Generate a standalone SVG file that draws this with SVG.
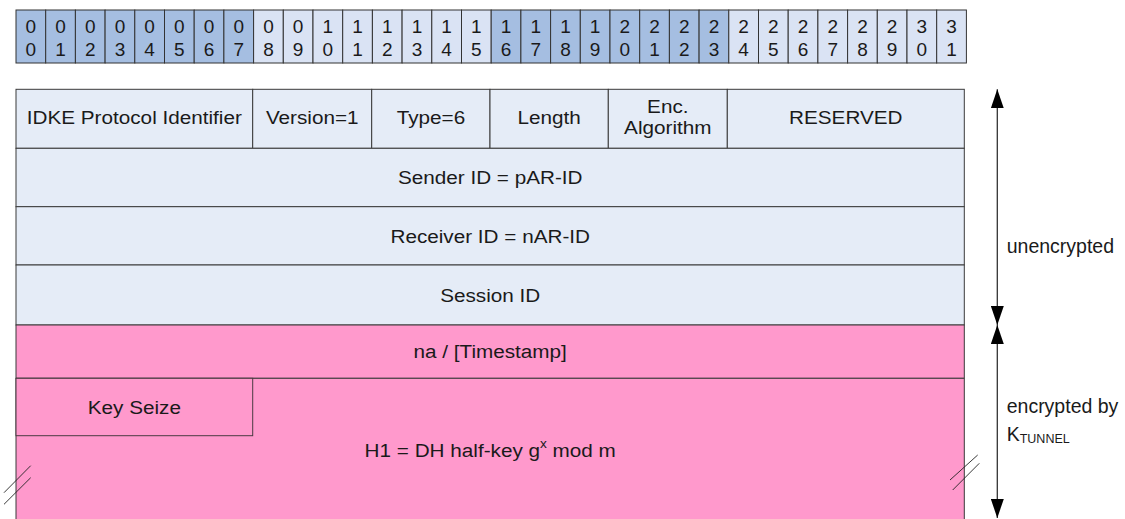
<svg xmlns="http://www.w3.org/2000/svg" width="1125" height="519" viewBox="0 0 1125 519">
  <style>
    .t { font-family: "Liberation Sans", Arial, sans-serif; font-size: 19px; fill: #1a1a1a; text-anchor: middle; }
    .lbl { font-family: "Liberation Sans", Arial, sans-serif; font-size: 19.5px; fill: #1a1a1a; }
    .dk { fill: #A5BEE1; stroke: #333; stroke-width: 1; }
    .lt { fill: #DAE3F4; stroke: #333; stroke-width: 1; }
    .row { fill: #E5ECF7; stroke: #3a3a3a; stroke-width: 1; }
    .pk { fill: #FF99CC; stroke: #3a3a3a; stroke-width: 1; }
    .brk { stroke: #222; stroke-width: 0.9; fill: none; }
    .arr { stroke: #333; stroke-width: 1.3; fill: none; }
  </style>
  <defs>
    <marker id="ah" markerUnits="userSpaceOnUse" markerWidth="19" markerHeight="13" refX="19" refY="6.5" orient="auto-start-reverse" viewBox="0 0 19 13">
      <path d="M0,0 L19,6.5 L0,13 z" fill="#000"/>
    </marker>
  </defs>
  <rect width="1125" height="519" fill="#fff"/>

  <g id="bit-ruler">
    <rect class="dk" x="16" y="10" width="29.7" height="53"/>
    <rect class="dk" x="45.7" y="10" width="29.7" height="53"/>
    <rect class="dk" x="75.4" y="10" width="29.7" height="53"/>
    <rect class="dk" x="105.1" y="10" width="29.7" height="53"/>
    <rect class="dk" x="134.8" y="10" width="29.7" height="53"/>
    <rect class="dk" x="164.5" y="10" width="29.7" height="53"/>
    <rect class="dk" x="194.2" y="10" width="29.7" height="53"/>
    <rect class="dk" x="223.9" y="10" width="29.7" height="53"/>
    <rect class="lt" x="253.6" y="10" width="29.7" height="53"/>
    <rect class="lt" x="283.3" y="10" width="29.7" height="53"/>
    <rect class="lt" x="313" y="10" width="29.7" height="53"/>
    <rect class="lt" x="342.7" y="10" width="29.7" height="53"/>
    <rect class="lt" x="372.4" y="10" width="29.7" height="53"/>
    <rect class="lt" x="402.1" y="10" width="29.7" height="53"/>
    <rect class="lt" x="431.8" y="10" width="29.7" height="53"/>
    <rect class="lt" x="461.5" y="10" width="29.7" height="53"/>
    <rect class="dk" x="491.2" y="10" width="29.7" height="53"/>
    <rect class="dk" x="520.9" y="10" width="29.7" height="53"/>
    <rect class="dk" x="550.6" y="10" width="29.7" height="53"/>
    <rect class="dk" x="580.3" y="10" width="29.7" height="53"/>
    <rect class="dk" x="610" y="10" width="29.7" height="53"/>
    <rect class="dk" x="639.7" y="10" width="29.7" height="53"/>
    <rect class="dk" x="669.4" y="10" width="29.7" height="53"/>
    <rect class="dk" x="699.1" y="10" width="29.7" height="53"/>
    <rect class="lt" x="728.8" y="10" width="29.7" height="53"/>
    <rect class="lt" x="758.5" y="10" width="29.7" height="53"/>
    <rect class="lt" x="788.2" y="10" width="29.7" height="53"/>
    <rect class="lt" x="817.9" y="10" width="29.7" height="53"/>
    <rect class="lt" x="847.6" y="10" width="29.7" height="53"/>
    <rect class="lt" x="877.3" y="10" width="29.7" height="53"/>
    <rect class="lt" x="907" y="10" width="29.7" height="53"/>
    <rect class="lt" x="936.7" y="10" width="29.7" height="53"/>
    <g class="t">
      <text x="30.85" y="33.3">0</text><text x="30.85" y="56.3">0</text>
      <text x="60.55" y="33.3">0</text><text x="60.55" y="56.3">1</text>
      <text x="90.25" y="33.3">0</text><text x="90.25" y="56.3">2</text>
      <text x="119.95" y="33.3">0</text><text x="119.95" y="56.3">3</text>
      <text x="149.65" y="33.3">0</text><text x="149.65" y="56.3">4</text>
      <text x="179.35" y="33.3">0</text><text x="179.35" y="56.3">5</text>
      <text x="209.05" y="33.3">0</text><text x="209.05" y="56.3">6</text>
      <text x="238.75" y="33.3">0</text><text x="238.75" y="56.3">7</text>
      <text x="268.45" y="33.3">0</text><text x="268.45" y="56.3">8</text>
      <text x="298.15" y="33.3">0</text><text x="298.15" y="56.3">9</text>
      <text x="327.85" y="33.3">1</text><text x="327.85" y="56.3">0</text>
      <text x="357.55" y="33.3">1</text><text x="357.55" y="56.3">1</text>
      <text x="387.25" y="33.3">1</text><text x="387.25" y="56.3">2</text>
      <text x="416.95" y="33.3">1</text><text x="416.95" y="56.3">3</text>
      <text x="446.65" y="33.3">1</text><text x="446.65" y="56.3">4</text>
      <text x="476.35" y="33.3">1</text><text x="476.35" y="56.3">5</text>
      <text x="506.05" y="33.3">1</text><text x="506.05" y="56.3">6</text>
      <text x="535.75" y="33.3">1</text><text x="535.75" y="56.3">7</text>
      <text x="565.45" y="33.3">1</text><text x="565.45" y="56.3">8</text>
      <text x="595.15" y="33.3">1</text><text x="595.15" y="56.3">9</text>
      <text x="624.85" y="33.3">2</text><text x="624.85" y="56.3">0</text>
      <text x="654.55" y="33.3">2</text><text x="654.55" y="56.3">1</text>
      <text x="684.25" y="33.3">2</text><text x="684.25" y="56.3">2</text>
      <text x="713.95" y="33.3">2</text><text x="713.95" y="56.3">3</text>
      <text x="743.65" y="33.3">2</text><text x="743.65" y="56.3">4</text>
      <text x="773.35" y="33.3">2</text><text x="773.35" y="56.3">5</text>
      <text x="803.05" y="33.3">2</text><text x="803.05" y="56.3">6</text>
      <text x="832.75" y="33.3">2</text><text x="832.75" y="56.3">7</text>
      <text x="862.45" y="33.3">2</text><text x="862.45" y="56.3">8</text>
      <text x="892.15" y="33.3">2</text><text x="892.15" y="56.3">9</text>
      <text x="921.85" y="33.3">3</text><text x="921.85" y="56.3">0</text>
      <text x="951.55" y="33.3">3</text><text x="951.55" y="56.3">1</text>
    </g>
  </g>

  <g id="field-idke">
    <rect class="row" x="16" y="89.3" width="236.7" height="59"/>
    <text class="t" transform="translate(134.3,123.5) scale(1.09,1)">IDKE Protocol Identifier</text>
  </g>
  <g id="field-version">
    <rect class="row" x="252.7" y="89.3" width="119" height="59"/>
    <text class="t" transform="translate(312.2,123.5) scale(1.09,1)">Version=1</text>
  </g>
  <g id="field-type">
    <rect class="row" x="371.7" y="89.3" width="118.3" height="59"/>
    <text class="t" transform="translate(430.9,123.5) scale(1.09,1)">Type=6</text>
  </g>
  <g id="field-length">
    <rect class="row" x="490" y="89.3" width="118.3" height="59"/>
    <text class="t" transform="translate(549.2,123.5) scale(1.09,1)">Length</text>
  </g>
  <g id="field-enc">
    <rect class="row" x="608.3" y="89.3" width="119" height="59"/>
    <text class="t" transform="translate(667.8,112.5) scale(1.09,1)">Enc.</text>
    <text class="t" transform="translate(667.8,134) scale(1.09,1)">Algorithm</text>
  </g>
  <g id="field-reserved">
    <rect class="row" x="727.3" y="89.3" width="237" height="59"/>
    <text class="t" transform="translate(845.8,123.5) scale(1.09,1)">RESERVED</text>
  </g>
  <g id="field-sender">
    <rect class="row" x="16" y="148.3" width="948.3" height="58.4"/>
    <text class="t" transform="translate(490.2,184) scale(1.09,1)">Sender ID = pAR-ID</text>
  </g>
  <g id="field-receiver">
    <rect class="row" x="16" y="206.7" width="948.3" height="58.3"/>
    <text class="t" transform="translate(490.2,242.5) scale(1.09,1)">Receiver ID = nAR-ID</text>
  </g>
  <g id="field-session">
    <rect class="row" x="16" y="265" width="948.3" height="60"/>
    <text class="t" transform="translate(490.2,301.5) scale(1.09,1)">Session ID</text>
  </g>
  <g id="field-timestamp">
    <rect class="pk" x="16" y="325" width="948.3" height="53.3"/>
    <text class="t" transform="translate(490.2,358) scale(1.09,1)">na / [Timestamp]</text>
  </g>
  <g id="field-h1">
    <path class="pk" d="M16,530 L16,378.3 L964.3,378.3 L964.3,530"/>
    <text class="t" transform="translate(490.2,456.7) scale(1.09,1)">H1 = DH half-key g<tspan font-size="12.5" dy="-9">x</tspan><tspan dy="9"> mod m</tspan></text>
  </g>
  <g id="field-keysize">
    <rect class="pk" x="16" y="378.3" width="236.7" height="57.4" style="stroke:#4a3a42"/>
    <text class="t" transform="translate(134.3,414.3) scale(1.09,1)">Key Seize</text>
  </g>
  <g id="breaks">
    <line class="brk" x1="4" y1="492.7" x2="30.7" y2="465.7"/>
    <line class="brk" x1="4" y1="504.3" x2="30.7" y2="477.7"/>
    <line class="brk" x1="950" y1="480" x2="977.7" y2="455"/>
    <line class="brk" x1="952.7" y1="490" x2="979.3" y2="463.3"/>
  </g>

  <g id="connectors">
    <line class="arr" x1="997.3" y1="89.3" x2="997.3" y2="325" marker-start="url(#ah)" marker-end="url(#ah)"/>
    <line class="arr" x1="997.3" y1="325" x2="997.3" y2="518" marker-start="url(#ah)" marker-end="url(#ah)"/>
  </g>
  <g id="label-unencrypted">
    <text class="lbl" x="1006.7" y="253.3">unencrypted</text>
  </g>
  <g id="label-encrypted">
    <text class="lbl" x="1006.7" y="413.3">encrypted by</text>
    <text class="lbl" x="1006.7" y="441">K<tspan font-size="12.5" dy="1.5">TUNNEL</tspan></text>
  </g>
</svg>
